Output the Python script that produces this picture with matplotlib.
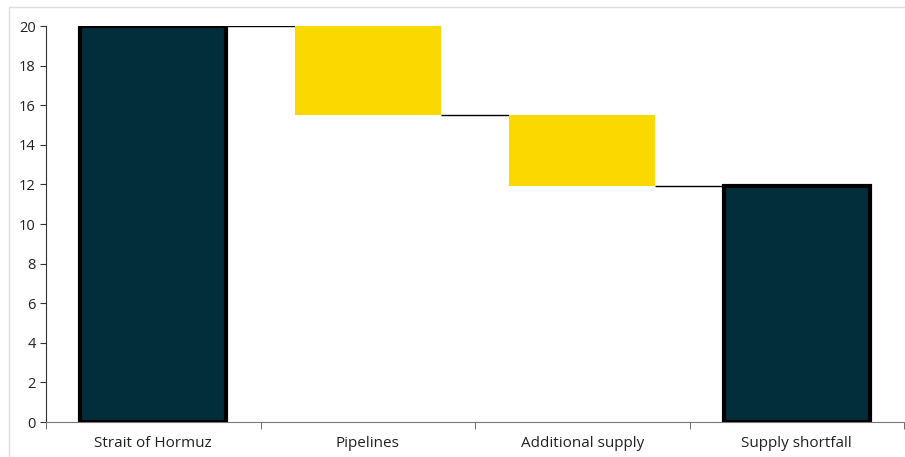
import matplotlib.pyplot as plt
from matplotlib.patches import Rectangle

plt.rcParams['font.family'] = ['Open Sans', 'DejaVu Sans']

# 数据
categories = ['Strait of Hormuz', 'Pipelines', 'Additional supply', 'Supply shortfall']
starts = [0, 20, 15.5, 0]
ends = [20, 15.5, 11.9, 11.9]
is_total = [True, False, False, True]

dark = '#022d3b'
yellow = '#fbd900'
width = 0.68

fig = plt.figure(figsize=(9.05, 4.57), dpi=100)
ax = fig.add_axes([46 / 905, 35 / 457, 858 / 905, 396 / 457])

x = range(len(categories))
for i in x:
    lo, hi = min(starts[i], ends[i]), max(starts[i], ends[i])
    if is_total[i]:
        ax.bar(i, hi - lo, bottom=lo, width=width, color=dark,
               edgecolor='black', linewidth=3, zorder=3)
    else:
        ax.bar(i, hi - lo, bottom=lo, width=width, color=yellow,
               edgecolor='none', zorder=3)

# 连接线
for i in range(len(categories) - 1):
    ax.hlines(ends[i], i + width / 2, i + 1 - width / 2, color='black', lw=1, zorder=2)

ax.set_xlim(-0.5, len(categories) - 0.5)
ax.set_ylim(0, 20)
ax.set_yticks(range(0, 21, 2))
ax.set_xticks(list(x))
ax.set_xticklabels(categories, fontsize=11, color='#222222')
ax.set_xticks([i - 0.5 for i in range(len(categories) + 1)], minor=True)
ax.tick_params(axis='x', which='major', length=0, pad=10)
ax.tick_params(axis='x', which='minor', length=5, color='#555555')
ax.tick_params(axis='y', length=4, labelsize=10.5, labelcolor='#222222', color='#333333')

for s in ['top', 'right']:
    ax.spines[s].set_visible(False)
ax.spines['left'].set_color('#333333')
ax.spines['bottom'].set_color('#777777')

# 外框
fig.patches.append(Rectangle((9 / 905, -0.1), 1.2, (457 - 7) / 457 + 0.1,
                             transform=fig.transFigure, fill=False,
                             edgecolor='#dddddd', lw=1))

fig.savefig('out.png', dpi=100)
